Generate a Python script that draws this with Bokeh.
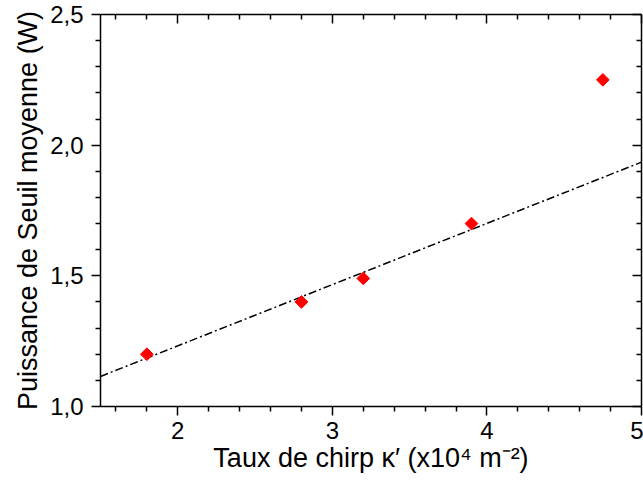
import math
from bokeh.plotting import figure
from bokeh.models import Range1d, LinearAxis, FixedTicker, CustomJSTickFormatter
from bokeh.embed import file_html
from bokeh.resources import INLINE

# data
chirp_rate = [1.8, 2.8, 3.2, 3.9, 4.75]
threshold_power = [1.20, 1.40, 1.49, 1.70, 2.25]
fit_x = [1.5, 5.0]
fit_y = [1.115, 1.935]

x_major = [2, 3, 4, 5]
x_minor = [1.6, 1.8, 2.2, 2.4, 2.6, 2.8, 3.2, 3.4, 3.6, 3.8, 4.2, 4.4, 4.6, 4.8]
y_major = [1.0, 1.5, 2.0, 2.5]
y_minor = [1.1, 1.2, 1.3, 1.4, 1.6, 1.7, 1.8, 1.9, 2.1, 2.2, 2.3, 2.4]
y_labels = {1.0: "1,0", 1.5: "1,5", 2.0: "2,0", 2.5: "2,5"}

FONT = "Liberation Sans"

p = figure(width=643, height=487, output_backend="svg", toolbar_location=None,
           x_range=Range1d(1.5, 5.0), y_range=Range1d(1.0, 2.5),
           x_axis_location=None, y_axis_location=None,
           min_border_left=100, min_border_right=2, min_border_top=14, min_border_bottom=81)
p.grid.visible = False
p.outline_line_color = None
p.background_fill_color = "white"
p.border_fill_color = "white"


def style_axis(ax, inward, labels=True):
    ax.axis_line_width = 1.5
    ax.axis_line_color = "black"
    ax.major_tick_line_width = 1.5
    ax.minor_tick_line_width = 1.5
    ax.major_tick_line_color = "black"
    ax.minor_tick_line_color = "black"
    if inward:
        ax.major_tick_in = 9
        ax.major_tick_out = 0
        ax.minor_tick_in = 5
        ax.minor_tick_out = 0
    else:
        ax.major_tick_in = 0
        ax.major_tick_out = 9
        ax.minor_tick_in = 0
        ax.minor_tick_out = 5
    ax.major_label_text_font = FONT
    ax.major_label_text_color = "black"
    ax.axis_label_text_font = FONT
    ax.axis_label_text_font_style = "normal"
    ax.axis_label_text_color = "black"
    ax.axis_label_text_font_size = "27px"
    ax.major_label_text_font_size = "24px"
    if not labels:
        ax.formatter = CustomJSTickFormatter(code="return '';")
        ax.major_label_standoff = 0


bottom = LinearAxis(ticker=FixedTicker(ticks=x_major, minor_ticks=x_minor),
                    axis_label="Taux de chirp κ′ (x10⁴ m⁻²)")
style_axis(bottom, inward=False)
bottom.major_label_standoff = 6
bottom.axis_label_standoff = 1
p.add_layout(bottom, "below")

left = LinearAxis(ticker=FixedTicker(ticks=y_major, minor_ticks=y_minor),
                  axis_label="Puissance de Seuil moyenne (W)")
style_axis(left, inward=False)
left.major_label_overrides = y_labels
left.major_label_standoff = 8
left.axis_label_standoff = 4
p.add_layout(left, "left")

top = LinearAxis(ticker=FixedTicker(ticks=x_major, minor_ticks=x_minor))
style_axis(top, inward=True, labels=False)
p.add_layout(top, "above")

right = LinearAxis(ticker=FixedTicker(ticks=y_major, minor_ticks=y_minor))
style_axis(right, inward=True, labels=False)
p.add_layout(right, "right")

p.line(fit_x, fit_y, line_color="black", line_width=1.5, line_dash="8 3 2 3")
p.scatter(chirp_rate, threshold_power, marker="square", size=9, angle=math.pi / 4,
          fill_color="#ff0000", line_color="#ff0000")

open("out.html", "w").write(file_html(p, INLINE))
